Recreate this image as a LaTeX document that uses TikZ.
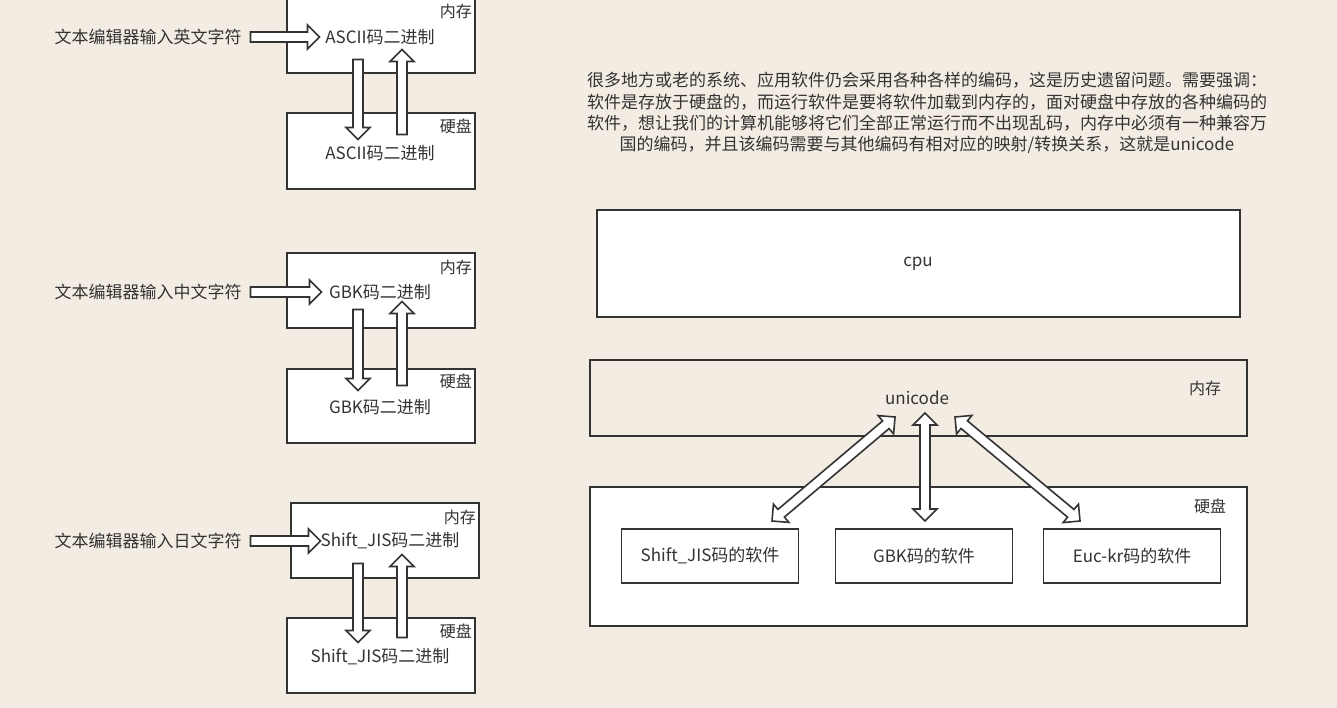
\documentclass[tikz,border=0pt]{standalone}
\usepackage{fontspec}
\setmainfont{Noto Sans CJK SC}
\usetikzlibrary{shapes.arrows,calc}
\definecolor{bg}{HTML}{F3ECE2}
\definecolor{ln}{HTML}{333333}
\begin{document}
\begin{tikzpicture}[x=1pt,y=-1pt,
  box/.style={draw=ln,line width=1.6,fill=white},
  txt/.style={font=\fontsize{17}{20}\selectfont,text=ln,inner sep=0},
  sm/.style={font=\fontsize{16}{18}\selectfont,text=ln,inner sep=0},
  sa/.style={single arrow,draw=ln,fill=white,line width=1.6,minimum width=24,single arrow head extend=6,inner sep=3.5,single arrow head indent=0,anchor=center},
  da/.style={double arrow,draw=ln,fill=white,line width=1.6,minimum width=24,double arrow head extend=6,inner sep=3.5,anchor=center}]
\newcommand\barrow[3]{\path let \p1=($(#3)-(#2)$),\n1={atan2(\y1,\x1)},\n2={veclen(\x1,\y1)} in node[#1,minimum height=\n2,rotate=\n1] at ($(#2)!0.5!(#3)$) {};}
\fill[bg] (0,0) rectangle (1337,708);
\useasboundingbox (0,0) rectangle (1337,708);
% group 1
\draw[box] (287,-5) rectangle (475,73);
\draw[box] (287,113) rectangle (475,189);
\node[sm,anchor=north east] (m1) at (472,4) {内存};
\node[sm,anchor=north east] (d1) at (472,119) {硬盘};
\node[txt] (a1) at (380,37) {ASCII码二进制};
\node[txt] (b1) at (380,153) {ASCII码二进制};
\node[txt] (i1) at (148,37) {文本编辑器输入英文字符};
\coordinate (p1) at (248,37); \coordinate (q1) at (317,37);
\barrow{sa}{p1}{q1}
\coordinate (u1) at (358,57); \coordinate (v1) at (358,137);
\barrow{sa}{u1}{v1}
\coordinate (w1) at (402,137); \coordinate (z1) at (402,52);
\barrow{sa}{w1}{z1}
% group 2
\draw[box] (287,253) rectangle (475,328);
\draw[box] (287,369) rectangle (475,443);
\node[sm,anchor=north east] (m2) at (472,260) {内存};
\node[sm,anchor=north east] (d2) at (472,374) {硬盘};
\node[txt] (a2) at (380,292) {GBK码二进制};
\node[txt] (b2) at (380,407) {GBK码二进制};
\node[txt] (i2) at (148,292) {文本编辑器输入中文字符};
\coordinate (p2) at (248,292); \coordinate (q2) at (319,292);
\barrow{sa}{p2}{q2}
\coordinate (u2) at (358,307); \coordinate (v2) at (358,388);
\barrow{sa}{u2}{v2}
\coordinate (w2) at (402,388); \coordinate (z2) at (402,304);
\barrow{sa}{w2}{z2}
% group 3
\draw[box] (291,503) rectangle (479,578);
\draw[box] (287,618) rectangle (475,693);
\node[sm,anchor=north east] (m3) at (476,510) {内存};
\node[sm,anchor=north east] (d3) at (472,624) {硬盘};
\node[txt] (a3) at (390,541) {Shift\_JIS码二进制};
\node[txt] (b3) at (380,657) {Shift\_JIS码二进制};
\node[txt] (i3) at (148,541) {文本编辑器输入日文字符};
\coordinate (p3) at (248,541); \coordinate (q3) at (318,541);
\barrow{sa}{p3}{q3}
\coordinate (u3) at (358,561); \coordinate (v3) at (358,640);
\barrow{sa}{u3}{v3}
\coordinate (w3) at (402,640); \coordinate (z3) at (402,557);
\barrow{sa}{w3}{z3}
% right
\node[txt,align=center,font=\fontsize{17}{21.3}\selectfont] (para) at (927,113) {很多地方或老的系统、应用软件仍会采用各种各样的编码，这是历史遗留问题。需要强调：\\软件是存放于硬盘的，而运行软件是要将软件加载到内存的，面对硬盘中存放的各种编码的\\软件，想让我们的计算机能够将它们全部正常运行而不出现乱码，内存中必须有一种兼容万\\国的编码，并且该编码需要与其他编码有相对应的映射/转换关系，这就是unicode};
\draw[box] (597,210) rectangle (1240,317);
\node[txt] (cpu) at (918,264) {cpu};
\draw[box,fill=bg] (590,360) rectangle (1247,436);
\node[txt] (uni) at (917,398) {unicode};
\node[sm] (m4) at (1205,388) {内存};
\draw[box] (590,487) rectangle (1247,626);
\node[sm] (d4) at (1210,506) {硬盘};
\node[box,txt,minimum width=177,minimum height=54] (s1) at (710,556) {Shift\_JIS码的软件};
\node[box,txt,minimum width=177,minimum height=54] (s2) at (924,556) {GBK码的软件};
\node[box,txt,minimum width=177,minimum height=54] (s3) at (1132,556) {Euc-kr码的软件};
\coordinate (x1) at (895,417); \coordinate (y1) at (772,521);
\barrow{da}{x1}{y1}
\coordinate (x2) at (925,413); \coordinate (y2) at (925,521);
\barrow{da}{x2}{y2}
\coordinate (x3) at (955,417); \coordinate (y3) at (1080,521);
\barrow{da}{x3}{y3}
\end{tikzpicture}
\end{document}
